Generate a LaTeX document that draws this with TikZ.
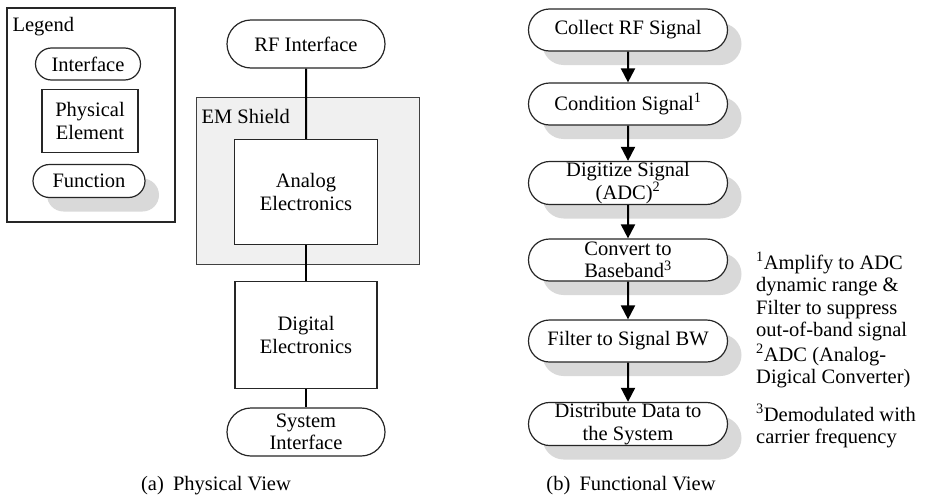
\documentclass[tikz,border=0pt]{standalone}
\usepackage{fontspec}
\setmainfont{Liberation Serif}
\usetikzlibrary{shapes.misc,shadows,arrows.meta}

\begin{document}
\begin{tikzpicture}[x=1pt, y=-1pt, font=\fontsize{20.5}{22.5}\selectfont]
        \tikzstyle{iface}=[rounded rectangle, draw=black!85, line width=1.2pt, fill=white, align=center, inner sep=1pt]
        \tikzstyle{func}=[iface, minimum width=201pt, minimum height=42pt, drop shadow={shadow xshift=14pt, shadow yshift=-14pt, fill=black!15, opacity=1}]
        \tikzstyle{phys}=[draw=black!85, line width=1.2pt, fill=white, align=center]
        \tikzstyle{link}=[line width=2pt]
        \tikzstyle{flow}=[line width=2pt, -{Triangle[length=14pt, width=14pt]}]
        \useasboundingbox (0,0) rectangle (932,498);
        % legend
        \node [draw=black!85, line width=1.2pt, minimum width=168pt, minimum height=214pt] (legend) at (91,115) {};
        \node [anchor=west] (legtitle) at (9,27) {Legend};
        \node [iface, minimum width=107pt, minimum height=32pt] (legiface) at (88,64) {Interface};
        \node [phys, minimum width=96pt, minimum height=63pt] (legphys) at (90,121) {Physical\\Element};
        \node [func, minimum width=114pt, minimum height=33pt] (legfunc) at (89,181) {Function};
        % physical view
        \node [draw=black!75, line width=1pt, fill=black!6, minimum width=223pt, minimum height=167pt] (shield) at (307.5,180.5) {};
        \node [anchor=west] (shieldlbl) at (198,116) {EM Shield};
        \node [iface, minimum width=160pt, minimum height=48pt] (rf) at (306,44) {RF Interface};
        \node [phys, minimum width=143pt, minimum height=105pt] (analog) at (306,192) {Analog\\Electronics};
        \node [phys, minimum width=142pt, minimum height=107pt] (digital) at (306,335) {Digital\\Electronics};
        \node [iface, minimum width=160pt, minimum height=48pt] (sys) at (306,432) {System\\Interface};
        \draw [link] (rf) -- (analog);
        \draw [link] (analog) -- (digital);
        \draw [link] (digital) -- (sys);
        \node (capa) at (216,486) {(a)\hspace{0.45em}Physical View};
        % functional view
        \node [func] (collect) at (628,30) {Collect RF Signal};
        \node [func] (cond) at (628,104) {Condition Signal\textsuperscript{1}};
        \node [func] (digitize) at (628,183) {Digitize Signal\\(ADC)\textsuperscript{2}};
        \node [func] (convert) at (628,260) {Convert to\\Baseband\textsuperscript{3}};
        \node [func] (filter) at (628,341) {Filter to Signal BW};
        \node [func] (distr) at (628,424) {Distribute Data to\\the System};
        \foreach \a/\b in {collect/cond, cond/digitize, digitize/convert, convert/filter, filter/distr}
            \draw [flow] (\a) -- (\b);
        \node [anchor=north west, align=left, inner sep=0pt] (note1) at (756,252) {\textsuperscript{1}Amplify to ADC\\dynamic range \&\\Filter to suppress\\out-of-band signal};
        \node [anchor=north west, align=left, inner sep=0pt] (note2) at (756,344) {\textsuperscript{2}ADC (Analog-\\Digical Converter)};
        \node [anchor=north west, align=left, inner sep=0pt] (note3) at (756,404) {\textsuperscript{3}Demodulated with\\carrier frequency};
        \node (capb) at (631,486) {(b)\hspace{0.45em}Functional View};
    \end{tikzpicture}
\end{document}
